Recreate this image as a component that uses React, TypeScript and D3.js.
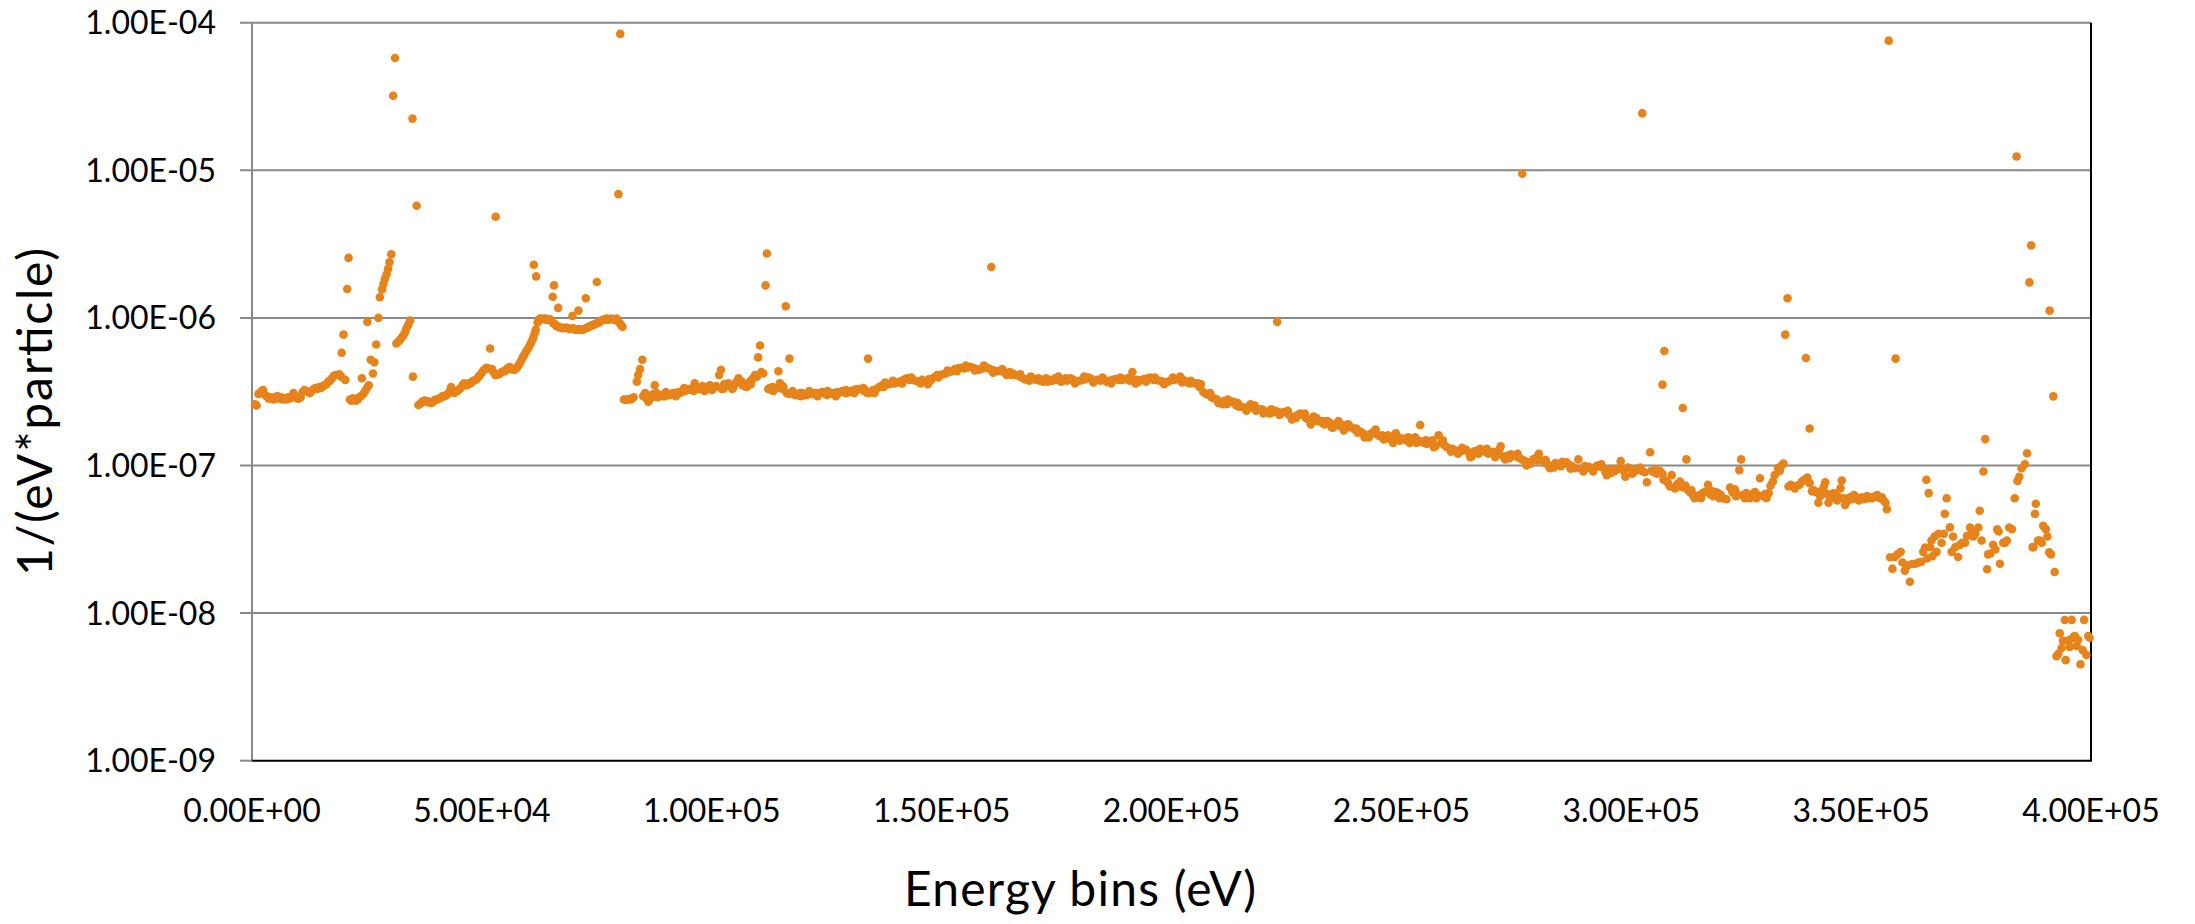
import React, { useRef, useEffect } from "react";
import * as d3 from "d3";

// [energy in keV, value in units of 1e-7 1/(eV*particle)]
const lowBand: [number, number][] = [
  [0.65, 2.6], [1.0, 2.55], [1.4, 3.05], [1.7, 3.1], [2.1, 3.2], [2.4, 3.25], [2.8, 3.0], [3.2, 2.95],
  [3.6, 2.85], [3.9, 2.85], [4.3, 2.9], [4.7, 2.8], [5.1, 2.85], [5.5, 2.95], [5.9, 2.85], [6.3, 2.9],
  [6.7, 2.8], [7.1, 2.85], [7.5, 2.8], [7.9, 2.9], [8.3, 2.85], [8.7, 2.95], [9.0, 3.1], [9.4, 2.95],
  [9.8, 2.85], [10.2, 2.85], [10.6, 2.9], [11.0, 3.15], [11.4, 3.25], [11.8, 3.2], [12.2, 3.15], [12.6, 3.1],
  [13.0, 3.2], [13.4, 3.3], [13.8, 3.35], [14.2, 3.3], [14.6, 3.4], [15.0, 3.35], [15.4, 3.45], [15.8, 3.5],
  [16.2, 3.55], [16.6, 3.7], [17.0, 3.75], [17.4, 3.9], [17.8, 4.05], [18.2, 4.1], [18.6, 4.1], [19.0, 4.15],
  [19.4, 4.0], [20.3, 3.8],
  [21.3, 2.8], [21.6, 2.75], [21.9, 2.85], [22.3, 2.8], [22.6, 2.75], [23.0, 2.8], [23.3, 2.9], [23.7, 2.95],
  [24.2, 3.05], [24.6, 3.2], [25.0, 3.35], [25.4, 3.5], [25.8, 5.2], [26.3, 4.2], [26.6, 5.0], [27.0, 6.6],
  [27.5, 10.0], [27.8, 13.8], [28.3, 15.6], [28.6, 17.0], [28.9, 18.4], [29.3, 19.8], [29.6, 21.5], [29.9, 23.8],
  [30.3, 27.0],
  [31.4, 6.7], [31.8, 6.9], [32.2, 7.1], [32.6, 7.4], [32.9, 7.6], [33.3, 8.0], [33.6, 8.5], [34.0, 9.0], [34.4, 9.6],
];

const bumpBand: [number, number][] = [
  [36.2, 2.57], [36.6, 2.62], [37.0, 2.7], [37.3, 2.72], [37.6, 2.75], [38.0, 2.7], [38.3, 2.72], [38.7, 2.65],
  [39.0, 2.65], [39.4, 2.7], [39.7, 2.78], [40.1, 2.8], [40.4, 2.8], [40.8, 2.85], [41.2, 2.9], [41.5, 2.95],
  [41.9, 2.95], [42.3, 3.0], [42.6, 3.05], [43.0, 3.2], [43.3, 3.4], [43.7, 3.15], [44.0, 3.1], [44.4, 3.2],
  [44.7, 3.2], [45.1, 3.3], [45.4, 3.35], [45.8, 3.5], [46.1, 3.6], [46.5, 3.55], [46.8, 3.5], [47.2, 3.6],
  [47.5, 3.6], [47.9, 3.7], [48.2, 3.75], [48.6, 3.8], [48.9, 3.85], [49.3, 4.0], [49.6, 4.1], [50.0, 4.25],
  [50.3, 4.4], [50.7, 4.5], [51.0, 4.6], [51.4, 4.55], [52.2, 4.5], [52.5, 4.3], [52.9, 4.1], [53.2, 4.1],
  [53.6, 4.15], [53.9, 4.2], [54.3, 4.3], [54.7, 4.35], [55.0, 4.35], [55.4, 4.5], [55.7, 4.6], [56.1, 4.65],
  [56.4, 4.5], [56.8, 4.45], [57.1, 4.45], [57.5, 4.55], [57.8, 4.7], [58.2, 4.9], [58.5, 5.1], [58.9, 5.4],
  [59.2, 5.6], [59.6, 5.9], [59.9, 6.1], [60.3, 6.4], [60.6, 6.7], [61.0, 7.1], [61.2, 7.4], [61.5, 7.9],
  [61.7, 8.3], [62.1, 9.3], [62.4, 9.7], [62.7, 9.9], [63.1, 9.85], [63.4, 9.8], [63.8, 9.9], [64.1, 9.7],
  [64.5, 9.75], [64.8, 9.8], [65.2, 9.5], [65.5, 9.2], [65.9, 9.1], [66.2, 8.8], [66.6, 8.75], [66.9, 8.6],
  [67.3, 8.6], [67.6, 8.5], [68.0, 8.55], [68.3, 8.6], [68.7, 8.5], [69.0, 8.4], [69.4, 8.45], [69.8, 8.5],
  [70.1, 8.4], [70.5, 8.3], [70.8, 8.35], [71.2, 8.4], [71.5, 8.3], [71.9, 8.3], [72.2, 8.4], [72.6, 8.5],
  [72.9, 8.6], [73.3, 8.7], [73.6, 8.8], [74.0, 8.9], [74.3, 9.0], [74.7, 9.1], [75.0, 9.2], [75.4, 9.3],
  [75.7, 9.4], [76.1, 9.6], [76.4, 9.7], [76.8, 9.8], [77.1, 9.9], [77.5, 9.7], [77.8, 9.8], [78.2, 9.9],
  [78.5, 9.8], [78.9, 9.7], [79.3, 9.9], [79.6, 9.5], [80.0, 9.2], [80.3, 8.9], [80.6, 8.7],
];

const midBand: [number, number][] = [
  [80.9, 2.8], [81.3, 2.78], [81.6, 2.8], [82.0, 2.82], [82.4, 2.8], [82.7, 2.85], [83.0, 2.9], [83.7, 3.7],
  [84.0, 4.1], [84.4, 4.5], [84.9, 5.2], [85.1, 2.95], [85.5, 3.1], [85.8, 2.85], [86.2, 2.7], [86.5, 2.8],
  [86.9, 2.9], [87.3, 3.05], [87.6, 3.5], [88.0, 3.1], [88.4, 3.0], [88.7, 2.95], [89.1, 3.0], [89.5, 2.95],
  [89.8, 2.95], [90.2, 3.0], [90.5, 3.05], [90.9, 3.0], [91.3, 3.05], [91.6, 3.1], [92.0, 3.1], [92.4, 3.05],
  [92.7, 3.15], [93.1, 3.1], [93.5, 3.15], [93.8, 3.2], [94.2, 3.2], [94.6, 3.25], [94.9, 3.3], [95.3, 3.3],
  [95.6, 3.25], [96.0, 3.4], [96.3, 3.6], [96.7, 3.35], [97.1, 3.3], [97.4, 3.3], [97.8, 3.35], [98.1, 3.25],
  [98.5, 3.2], [98.9, 3.3], [99.2, 3.4], [99.6, 3.5], [99.9, 3.4], [100.3, 3.35], [100.7, 3.4], [101.0, 3.45],
  [101.6, 4.1], [102.0, 4.45], [102.2, 3.3], [102.5, 3.3], [102.9, 3.45], [103.2, 3.5], [103.6, 3.6], [104.0, 3.5],
  [104.3, 3.4], [104.7, 3.4], [105.0, 3.55], [105.4, 3.7], [105.8, 3.9], [106.1, 3.75], [106.5, 3.7], [106.9, 3.55],
  [107.2, 3.45], [107.6, 3.4], [107.9, 3.55], [108.3, 3.7], [108.7, 3.8], [109.0, 3.9], [109.4, 4.1], [109.8, 4.0],
  [110.1, 5.4], [110.5, 6.5], [110.8, 4.3], [111.2, 4.2], [112.3, 3.3], [112.6, 3.35], [113.0, 3.25], [113.4, 3.2],
  [113.7, 3.3], [114.1, 3.35], [114.5, 4.35], [114.8, 3.6], [115.2, 3.5], [115.6, 3.4], [116.3, 3.1], [116.7, 3.05],
  [117.0, 3.1], [117.4, 3.1], [117.8, 3.05], [118.1, 3.0], [118.5, 3.0], [118.9, 3.05], [119.2, 3.1], [119.6, 3.1],
  [120.0, 3.05], [120.3, 3.0], [120.7, 3.0], [121.1, 3.05], [121.4, 3.1], [121.8, 3.1], [122.1, 3.05], [122.5, 3.1],
  [122.9, 3.1], [123.2, 3.05], [123.6, 3.1], [124.0, 3.15], [124.3, 3.1], [124.7, 3.05], [125.1, 3.0], [125.4, 3.05],
  [125.8, 3.1], [126.2, 3.1], [126.5, 3.05], [126.9, 3.1], [127.3, 3.15], [127.6, 3.1], [128.0, 3.15], [128.4, 3.2],
  [128.7, 3.15], [129.1, 3.1], [129.4, 3.1], [129.8, 3.15], [130.2, 3.2], [130.5, 3.2], [130.9, 3.25], [131.3, 3.2],
  [131.6, 3.3], [132.0, 3.3], [132.3, 3.3], [132.7, 3.3], [133.1, 3.2], [133.4, 3.25],
  [133.8, 3.1], [134.4, 3.1], [135.1, 3.25], [135.8, 3.3], [136.4, 3.4], [137.1, 3.5], [137.7, 3.65], [138.4, 3.55],
  [139.1, 3.6], [139.7, 3.6], [140.4, 3.65], [141.0, 3.7], [141.7, 3.8], [142.4, 3.9], [143.0, 3.8], [143.7, 3.8],
  [144.3, 3.75], [145.0, 3.7], [145.7, 3.8], [146.3, 3.75], [147.0, 3.55], [147.6, 3.75], [148.3, 3.95], [149.0, 4.1],
  [149.6, 4.1], [150.3, 4.15], [150.9, 4.2], [151.6, 4.3], [152.3, 4.35], [152.9, 4.5], [153.6, 4.55], [154.2, 4.6],
  [154.9, 4.55], [155.6, 4.6], [156.2, 4.65], [156.9, 4.6], [157.5, 4.5], [158.2, 4.45], [158.9, 4.55], [159.5, 4.65],
  [160.2, 4.55], [160.8, 4.45], [161.5, 4.4], [162.2, 4.35], [162.8, 4.4], [163.5, 4.3], [164.1, 4.1], [164.8, 4.3],
  [165.5, 4.2], [166.1, 4.1], [166.8, 4.05], [167.4, 3.95], [168.1, 3.85], [168.8, 3.8], [169.4, 4.0], [170.1, 3.85],
  [170.7, 3.8], [171.4, 3.75], [172.1, 3.7], [172.7, 3.9], [173.4, 3.8], [174.0, 3.75], [174.7, 3.9], [175.4, 4.0],
  [176.0, 3.7], [176.7, 3.8], [177.3, 3.75], [178.0, 3.9], [178.7, 3.8], [179.3, 3.7], [180.0, 3.75], [180.6, 3.8],
  [181.3, 3.85], [182.0, 3.95], [182.6, 3.85], [183.3, 3.75], [183.9, 3.8], [184.6, 3.75], [185.3, 3.85], [185.9, 3.7],
  [186.6, 3.75], [187.2, 3.8], [187.9, 3.85], [188.6, 3.8], [189.2, 3.8], [189.9, 3.85], [190.5, 3.9], [191.2, 3.95],
  [191.5, 4.3], [192.2, 3.6], [192.8, 3.7], [193.5, 3.8], [194.1, 3.85], [194.8, 3.9], [195.4, 3.95], [196.1, 3.8],
  [196.7, 3.8], [197.4, 3.75], [198.0, 3.7], [198.7, 3.65], [199.3, 3.7], [200.0, 3.8],
];

const slopeBand: [number, number][] = [
  [200.6, 3.8], [201.3, 3.85], [201.9, 4.0], [202.6, 3.8], [203.2, 3.7], [203.9, 3.6], [204.5, 3.65], [205.2, 3.6],
  [205.8, 3.6], [206.4, 3.55], [206.9, 3.15], [207.5, 3.05], [208.1, 3.0], [208.7, 2.9], [209.3, 2.85], [209.9, 2.8],
  [210.5, 2.7], [211.1, 2.6], [211.7, 2.75], [212.3, 2.8], [212.9, 2.7], [213.5, 2.7], [214.1, 2.55], [214.7, 2.5],
  [215.3, 2.5], [216.0, 2.45], [216.6, 2.5], [217.2, 2.6], [217.8, 2.45], [218.4, 2.35], [219.0, 2.4], [219.6, 2.4],
  [220.2, 2.35], [220.8, 2.3], [221.4, 2.25], [222.0, 2.3], [222.6, 2.35], [223.2, 2.3], [223.8, 2.25], [224.4, 2.3],
  [225.0, 2.3], [225.6, 2.2], [226.2, 2.05], [226.8, 2.15], [227.4, 2.2], [228.0, 2.25], [228.6, 2.2], [229.2, 2.1],
  [229.8, 2.05], [230.3, 1.9], [230.9, 2.15], [231.5, 2.1], [232.1, 2.0], [232.7, 1.95], [233.3, 1.9], [233.9, 2.0],
  [234.5, 1.95], [235.1, 1.8], [235.7, 1.9], [236.3, 2.0], [236.9, 1.9], [237.5, 1.73], [238.1, 1.8], [238.7, 1.85],
  [239.3, 1.8], [239.9, 1.75], [240.5, 1.67], [241.1, 1.7], [241.7, 1.65], [242.3, 1.6], [242.9, 1.55], [243.5, 1.65],
  [244.1, 1.7], [244.7, 1.62], [245.3, 1.58], [245.9, 1.6], [246.5, 1.55], [247.1, 1.6], [247.7, 1.5], [248.2, 1.42],
  [248.8, 1.65], [249.4, 1.55], [250.0, 1.5], [250.6, 1.52], [251.2, 1.48], [251.8, 1.42], [252.4, 1.5], [253.0, 1.55],
  [253.6, 1.48], [254.4, 1.45], [255.0, 1.42], [255.6, 1.4], [256.2, 1.45], [256.8, 1.48], [257.4, 1.35], [258.1, 1.6],
  [258.7, 1.42], [259.3, 1.38], [259.9, 1.33], [260.5, 1.3], [261.1, 1.3], [261.7, 1.27], [262.3, 1.2], [262.9, 1.25],
  [263.5, 1.27], [264.1, 1.28], [264.7, 1.22], [265.3, 1.15], [265.9, 1.25], [266.5, 1.26], [267.1, 1.3], [267.7, 1.27],
  [268.3, 1.24], [268.9, 1.2], [269.5, 1.22], [270.1, 1.24], [270.7, 1.18], [271.3, 1.28], [271.6, 1.35], [272.2, 1.15],
  [272.6, 1.1], [273.2, 1.17], [273.8, 1.19], [274.4, 1.16], [275.0, 1.15], [275.6, 1.13], [276.2, 1.1], [276.9, 1.07],
  [277.5, 1.05], [278.1, 1.03], [278.7, 1.1], [279.3, 1.13], [279.9, 1.2], [280.5, 1.08], [281.1, 1.05], [281.7, 1.02],
  [282.3, 0.96], [282.9, 1.0], [283.5, 1.04], [284.1, 1.02], [284.7, 0.99], [285.3, 1.03], [285.9, 1.05], [286.5, 1.01],
  [287.1, 0.99], [287.7, 0.96], [288.5, 1.1], [289.1, 0.95], [289.6, 0.91], [290.2, 0.96], [290.8, 0.98], [291.4, 0.95],
  [292.0, 0.97], [292.6, 1.0], [293.2, 0.98], [293.8, 0.97], [294.4, 0.9], [294.7, 0.86], [295.3, 0.93], [295.9, 0.95],
  [296.5, 0.92], [297.1, 0.95], [297.7, 1.07], [298.3, 0.92], [298.7, 0.84], [299.3, 0.97], [299.9, 0.95], [300.5, 0.9],
  [301.1, 0.93], [301.7, 0.94], [302.3, 0.92], [302.9, 0.9], [303.4, 0.77], [304.4, 0.92], [305.0, 0.9], [305.6, 0.88],
  [306.2, 0.92], [306.8, 0.88], [307.5, 0.79], [308.0, 0.76], [308.4, 0.72], [308.8, 0.86], [309.5, 0.7], [310.0, 0.75],
  [310.6, 0.78], [311.3, 0.71], [311.8, 0.73], [312.4, 0.68], [312.8, 0.66], [313.4, 0.63], [313.8, 0.6], [314.4, 0.62],
  [314.9, 0.63], [315.5, 0.65], [316.0, 0.66], [316.7, 0.74], [317.2, 0.64], [317.8, 0.62], [318.4, 0.66], [318.9, 0.65],
  [319.5, 0.63], [320.0, 0.6], [320.7, 0.59], [321.5, 0.71], [322.0, 0.66], [322.5, 0.69], [323.0, 0.64], [324.3, 0.63],
  [324.7, 0.6], [325.3, 0.62], [325.8, 0.6], [326.4, 0.64], [326.9, 0.66], [327.5, 0.63], [328.0, 0.82], [328.7, 0.62],
  [329.4, 0.6], [329.9, 0.65], [330.3, 0.73], [330.8, 0.78], [331.2, 0.86], [331.9, 0.96], [332.3, 0.92], [332.7, 1.0],
  [333.1, 1.03],
];

// second row of points along the band edges (the band is a few bins thick)
const bandEdge: [number, number][] = [
  [86.0, 3.0], [88.2, 2.9], [90.0, 3.15], [92.2, 2.95], [94.0, 3.35], [96.1, 3.2], [98.0, 3.45], [100.1, 3.25],
  [102.7, 3.55], [104.5, 3.3], [106.7, 3.5], [108.5, 3.55], [113.2, 3.4], [115.4, 3.3], [117.6, 3.2], [119.4, 2.95],
  [121.2, 3.2], [123.0, 2.95], [125.2, 3.2], [127.0, 2.95], [129.2, 3.25], [131.0, 3.1], [133.0, 3.35], [135.4, 3.1],
  [137.4, 3.4], [139.4, 3.75], [141.4, 3.6], [143.4, 3.95], [145.4, 3.6], [147.3, 3.85], [149.3, 3.95], [151.3, 4.4],
  [153.3, 4.35], [155.3, 4.75], [157.2, 4.4], [159.2, 4.75], [161.2, 4.25], [163.2, 4.5], [165.2, 4.1], [167.1, 4.15],
  [169.1, 3.75], [171.1, 3.9], [173.1, 3.7], [175.1, 3.8], [177.0, 3.9], [179.0, 3.6], [181.0, 4.0], [183.0, 3.65],
  [185.0, 3.95], [186.9, 3.6], [188.9, 3.95], [190.9, 3.75], [192.5, 3.8], [194.5, 3.7], [196.4, 3.95], [198.4, 3.55],
  [200.3, 3.95], [202.3, 3.65], [204.2, 3.75], [206.1, 3.4], [208.4, 3.1], [210.2, 2.65], [212.0, 2.6], [214.4, 2.65],
  [216.3, 2.35], [218.1, 2.55], [220.0, 2.25], [221.7, 2.4], [223.5, 2.2], [225.3, 2.35], [227.1, 2.1], [229.0, 2.25],
  [231.2, 2.0], [233.0, 2.0], [234.8, 1.82], [236.6, 1.85], [238.4, 1.9], [240.2, 1.78], [242.0, 1.55], [244.4, 1.75],
  [246.2, 1.5], [248.0, 1.55], [249.7, 1.47], [251.5, 1.55], [253.3, 1.42], [255.3, 1.48], [257.1, 1.33], [259.0, 1.48],
  [260.8, 1.24], [263.2, 1.32], [265.0, 1.14], [266.8, 1.2], [268.6, 1.3], [270.4, 1.14], [273.5, 1.12], [275.3, 1.2],
  [277.2, 1.0], [279.6, 1.08], [281.4, 1.09], [283.2, 0.97], [285.0, 1.06], [286.8, 0.95], [289.9, 0.99], [291.7, 0.91],
  [293.5, 1.02], [295.6, 0.89], [298.0, 0.95], [300.2, 0.88], [302.0, 0.97], [305.3, 0.94], [307.0, 0.8], [310.3, 0.72],
  [313.1, 0.68], [315.2, 0.6], [317.5, 0.67], [319.2, 0.6], [322.8, 0.62], [325.0, 0.65], [327.2, 0.6], [329.1, 0.64],
];

const tailBand: [number, number][] = [
  [334.2, 0.72], [334.7, 0.74], [335.2, 0.72], [335.6, 0.7], [336.1, 0.73], [336.6, 0.74], [337.1, 0.78], [337.6, 0.8],
  [338.3, 0.83], [338.8, 0.76], [339.3, 0.67], [339.7, 0.68], [340.2, 0.66], [340.7, 0.56], [341.1, 0.62], [341.5, 0.68],
  [341.9, 0.72], [342.2, 0.77], [342.6, 0.64], [342.9, 0.56], [343.3, 0.6], [343.6, 0.63], [344.0, 0.65], [344.4, 0.64],
  [344.8, 0.58], [345.1, 0.61], [345.5, 0.7], [345.8, 0.79], [346.2, 0.6], [346.5, 0.54], [346.9, 0.57], [347.3, 0.6],
  [347.6, 0.61], [348.0, 0.59], [348.4, 0.63], [348.7, 0.62], [349.1, 0.6], [349.5, 0.58], [349.8, 0.6], [350.2, 0.61],
  [350.6, 0.59], [350.9, 0.6], [351.3, 0.62], [351.6, 0.6], [352.0, 0.61], [352.4, 0.6], [352.7, 0.61], [353.1, 0.62],
  [353.5, 0.63], [353.8, 0.61], [354.2, 0.6], [354.5, 0.61], [354.9, 0.58], [355.3, 0.56], [355.6, 0.505],
  [356.3, 0.239], [356.8, 0.2], [357.3, 0.24], [357.9, 0.25], [358.6, 0.26], [359.0, 0.22], [359.5, 0.194], [360.0, 0.21],
  [360.6, 0.163], [361.1, 0.215], [361.8, 0.216], [362.5, 0.22], [363.1, 0.223], [363.5, 0.26], [363.9, 0.278], [364.4, 0.235],
  [365.0, 0.28], [365.3, 0.31], [365.5, 0.243], [366.0, 0.33], [366.4, 0.26], [366.8, 0.345], [367.5, 0.3], [368.0, 0.345],
  [369.3, 0.381], [369.7, 0.26], [370.0, 0.33], [370.5, 0.28], [371.1, 0.24], [371.5, 0.29], [372.0, 0.3], [372.6, 0.3],
  [373.0, 0.333], [373.7, 0.38], [374.1, 0.36], [374.4, 0.33], [374.8, 0.345], [375.5, 0.38], [375.8, 0.494], [376.2, 0.31],
  [377.4, 0.198], [377.6, 0.25], [378.1, 0.253], [378.7, 0.29], [379.2, 0.27], [379.6, 0.37], [379.9, 0.357], [380.2, 0.216],
  [380.9, 0.3], [381.3, 0.3], [381.7, 0.31], [382.2, 0.38], [382.8, 0.37], [383.4, 0.6], [384.0, 0.785], [384.4, 0.84],
  [384.9, 0.957], [385.6, 1.02], [386.1, 1.21], [387.3, 0.28], [387.5, 0.28], [387.8, 0.47], [388.0, 0.55], [388.5, 0.31],
  [388.9, 0.31], [389.3, 0.3], [389.6, 0.39], [390.2, 0.37], [390.5, 0.33], [390.9, 0.258], [391.3, 0.25], [392.1, 0.19],
  [392.5, 0.051], [392.9, 0.053], [393.2, 0.073], [393.6, 0.058], [393.9, 0.065], [394.3, 0.0897], [394.5, 0.048], [394.9, 0.065],
  [395.4, 0.066], [395.4, 0.059], [395.8, 0.09], [396.2, 0.069], [396.5, 0.07], [396.9, 0.06], [397.2, 0.066], [397.7, 0.045],
  [398.2, 0.056], [398.5, 0.09], [399.0, 0.052], [399.4, 0.07], [399.7, 0.068],
];

const spikes: [number, number][] = [
  [19.5, 5.8], [19.9, 7.7], [20.7, 15.7], [21.0, 25.5], [23.9, 3.9], [25.1, 9.4], [30.7, 320], [31.1, 577],
  [34.9, 224], [35.0, 4.0], [35.8, 57.5], [51.8, 6.2], [53.0, 48.5], [61.3, 22.9], [61.8, 19.1], [65.4, 13.9],
  [65.7, 16.6], [66.6, 11.7], [69.7, 10.3], [71.0, 11.2], [72.6, 13.6], [75.0, 17.5], [79.7, 69], [80.1, 840],
  [111.7, 16.6], [112.0, 27.3], [116.1, 12.0], [116.9, 5.3], [134.0, 5.3], [160.8, 22.1], [223.0, 9.4], [254.1, 1.88],
  [276.3, 95], [302.4, 243], [304.1, 1.23], [306.8, 3.53], [307.2, 5.97], [311.2, 2.45], [312.0, 1.1], [323.5, 0.93],
  [323.9, 1.1], [333.5, 7.7], [334.0, 13.6], [338.0, 5.35], [338.8, 1.78], [356.0, 756], [357.5, 5.3], [364.2, 0.8],
  [364.7, 0.65], [368.2, 0.47], [368.6, 0.6], [376.6, 0.91], [377.0, 1.51], [383.8, 124], [386.6, 17.4], [387.0, 31],
  [391.0, 11.2], [391.8, 2.94],
];

const yTicks = [1e-9, 1e-8, 1e-7, 1e-6, 1e-5, 1e-4];
const xTicks = [0, 5e4, 1e5, 1.5e5, 2e5, 2.5e5, 3e5, 3.5e5, 4e5];

const sci = (v: number) => {
  const [m, e] = v.toExponential(2).split("e");
  const n = +e;
  return `${m}E${n < 0 ? "-" : "+"}${String(Math.abs(n)).padStart(2, "0")}`;
};

const App = () => {
  const ref = useRef<SVGSVGElement>(null);

  useEffect(() => {
    const svg = d3.select(ref.current);
    svg.selectAll("*").remove();

    const left = 252, right = 2091, top = 22.7, bottom = 760.7;
    const font = "Lato, 'Open Sans', sans-serif";

    const x = d3.scaleLinear().domain([0, 4e5]).range([left, right]);
    const y = d3.scaleLog().domain([1e-9, 1e-4]).range([bottom, top]);

    svg.append("rect").attr("width", 2195).attr("height", 924).attr("fill", "#fff");

    // horizontal gridlines with outward ticks
    svg
      .append("g")
      .selectAll("line")
      .data(yTicks)
      .enter()
      .append("line")
      .attr("x1", left - 12)
      .attr("x2", (d) => (d === 1e-9 ? left : right))
      .attr("y1", (d) => y(d))
      .attr("y2", (d) => y(d))
      .attr("stroke", "#898989")
      .attr("stroke-width", 2);

    // left axis (gray)
    svg.append("line")
      .attr("x1", left).attr("x2", left)
      .attr("y1", top).attr("y2", bottom)
      .attr("stroke", "#898989").attr("stroke-width", 2);

    // bottom and right border (black)
    svg.append("path")
      .attr("d", `M${left},${bottom}H${right}V${top}`)
      .attr("fill", "none")
      .attr("stroke", "#000")
      .attr("stroke-width", 2);

    // y tick labels
    svg
      .append("g")
      .selectAll("text")
      .data(yTicks)
      .enter()
      .append("text")
      .attr("x", 216)
      .attr("y", (d) => y(d) + 11.5)
      .attr("text-anchor", "end")
      .attr("font-family", font)
      .attr("font-size", 32)
      .attr("fill", "#000")
      .text((d) => sci(d));

    // x tick labels
    svg
      .append("g")
      .selectAll("text")
      .data(xTicks)
      .enter()
      .append("text")
      .attr("x", (d) => x(d))
      .attr("y", 821.5)
      .attr("text-anchor", "middle")
      .attr("font-family", font)
      .attr("font-size", 32)
      .attr("fill", "#000")
      .text((d) => sci(d));

    // axis titles
    svg.append("text")
      .attr("x", 1080)
      .attr("y", 906)
      .attr("text-anchor", "middle")
      .attr("font-family", font)
      .attr("font-size", 48)
      .attr("textLength", 352)
      .attr("fill", "#000")
      .text("Energy bins (eV)");

    svg.append("text")
      .attr("transform", `translate(52,412) rotate(-90)`)
      .attr("text-anchor", "middle")
      .attr("font-family", font)
      .attr("font-size", 48)
      .attr("textLength", 328)
      .attr("fill", "#000")
      .text("1/(eV*particle)");

    // points
    const points = [...lowBand, ...bumpBand, ...midBand, ...bandEdge, ...slopeBand, ...tailBand, ...spikes];
    svg
      .append("g")
      .selectAll("circle")
      .data(points)
      .enter()
      .append("circle")
      .attr("cx", (d) => x(d[0] * 1000))
      .attr("cy", (d) => y(d[1] * 1e-7))
      .attr("r", 4.3)
      .attr("fill", "#E6831A");
  }, []);

  return (
    <svg
      ref={ref}
      width={2195}
      height={924}
      style={{ position: "absolute", left: 0, top: 0 }}
    />
  );
};

export default App;
